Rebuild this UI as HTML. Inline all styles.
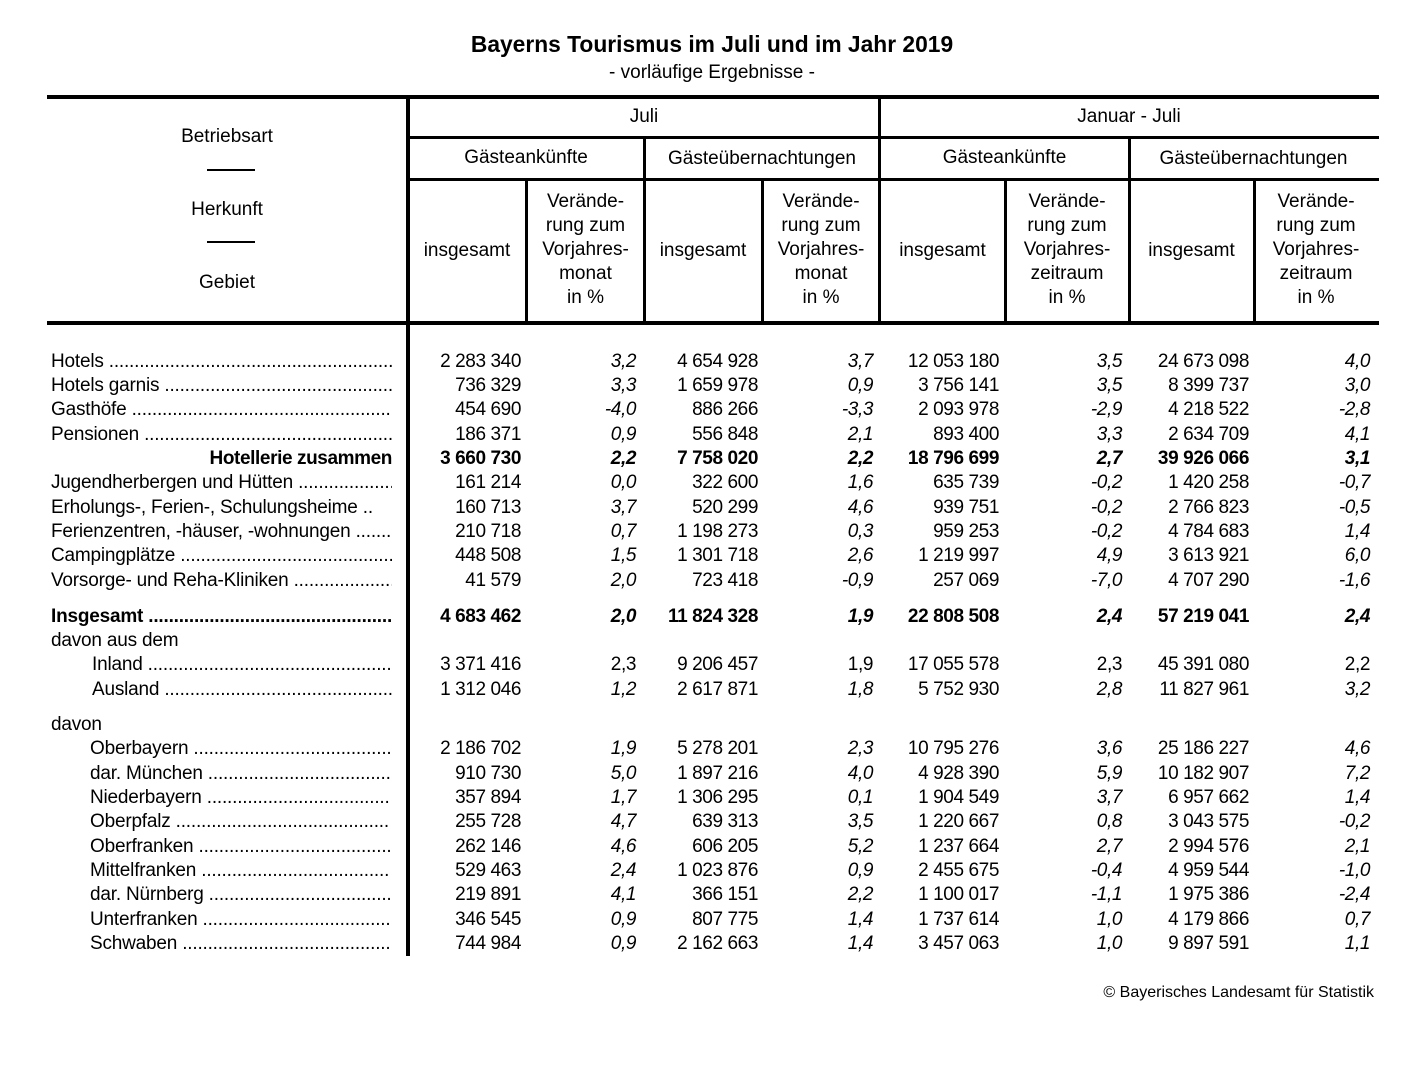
<!DOCTYPE html>
<html><head><meta charset="utf-8"><style>
body{margin:0;background:#fff;}
#p{position:relative;width:1424px;height:1072px;background:#fff;font-family:"Liberation Sans",Arial,sans-serif;font-size:19px;color:#000;overflow:hidden}
.l{position:absolute;background:#000}
.t{position:absolute;white-space:nowrap;text-align:center;line-height:24px}
.r{position:absolute;left:0;width:1424px;height:24px;line-height:24px;white-space:nowrap;margin-top:2px}
.r span{position:absolute;top:0;letter-spacing:-0.4px}
.r span.lab,.r span.ind{letter-spacing:-0.2px}
.lab{left:51px;width:341px;overflow:hidden}
.ind{left:92px;width:300px;overflow:hidden}
.c1{right:903px}.c2{right:788px;font-style:italic}.c3{right:666px}.c4{right:551px;font-style:italic}
.c5{right:425px}.c6{right:302px;font-style:italic}.c7{right:175px}.c8{right:54px;font-style:italic}
.b{font-weight:bold}
</style></head><body><div id="p">
<div class="t" style="left:0;width:1424px;top:32px;font-weight:bold;font-size:22.8px">Bayerns Tourismus im Juli und im Jahr 2019</div>
<div class="t" style="left:0;width:1424px;top:61px;font-size:19px">- vorläufige Ergebnisse -</div>

<div class="l" style="left:47px;top:95px;width:1332px;height:4px"></div>
<div class="l" style="left:406px;top:95px;width:4px;height:861px"></div>
<div class="l" style="left:408px;top:136px;width:971px;height:3px"></div>
<div class="l" style="left:878px;top:95px;width:3px;height:229px"></div>
<div class="l" style="left:408px;top:178px;width:971px;height:3px"></div>
<div class="l" style="left:643px;top:137px;width:3px;height:187px"></div>
<div class="l" style="left:1128px;top:137px;width:3px;height:187px"></div>
<div class="l" style="left:525px;top:180px;width:3px;height:144px"></div>
<div class="l" style="left:761px;top:180px;width:3px;height:144px"></div>
<div class="l" style="left:1004px;top:180px;width:3px;height:144px"></div>
<div class="l" style="left:1253px;top:180px;width:3px;height:144px"></div>
<div class="l" style="left:47px;top:321px;width:1332px;height:4px"></div>
<div class="l" style="left:207px;top:169px;width:48px;height:2px"></div>
<div class="l" style="left:207px;top:241px;width:48px;height:2px"></div>

<div class="t" style="left:47px;width:360px;top:125px">Betriebsart</div>
<div class="t" style="left:47px;width:360px;top:198px">Herkunft</div>
<div class="t" style="left:47px;width:360px;top:271px">Gebiet</div>
<div class="t" style="left:408px;width:472px;top:105px">Juli</div>
<div class="t" style="left:880px;width:498px;top:105px">Januar - Juli</div>
<div class="t" style="left:408px;width:236px;top:146px">Gästeankünfte</div>
<div class="t" style="left:644px;width:236px;top:147px">Gästeübernachtungen</div>
<div class="t" style="left:880px;width:249px;top:146px">Gästeankünfte</div>
<div class="t" style="left:1129px;width:249px;top:147px">Gästeübernachtungen</div>
<div class="t" style="left:408px;width:118px;top:239px">insgesamt</div>
<div class="t" style="left:644px;width:118px;top:239px">insgesamt</div>
<div class="t" style="left:880px;width:125px;top:239px">insgesamt</div>
<div class="t" style="left:1129px;width:125px;top:239px">insgesamt</div>
<div class="t" style="left:527px;width:117px;top:190px">Verände-<br>rung zum<br>Vorjahres-<br>monat<br>in %</div>
<div class="t" style="left:762px;width:118px;top:190px">Verände-<br>rung zum<br>Vorjahres-<br>monat<br>in %</div>
<div class="t" style="left:1005px;width:124px;top:190px">Verände-<br>rung zum<br>Vorjahres-<br>zeitraum<br>in %</div>
<div class="t" style="left:1254px;width:124px;top:190px">Verände-<br>rung zum<br>Vorjahres-<br>zeitraum<br>in %</div>

<div class="r" style="top:348px"><span class="lab">Hotels ..........................................................................................</span><span class="c1">2 283 340</span><span class="c2">3,2</span><span class="c3">4 654 928</span><span class="c4">3,7</span><span class="c5">12 053 180</span><span class="c6">3,5</span><span class="c7">24 673 098</span><span class="c8">4,0</span></div>
<div class="r" style="top:372px"><span class="lab">Hotels garnis ..........................................................................................</span><span class="c1">736 329</span><span class="c2">3,3</span><span class="c3">1 659 978</span><span class="c4">0,9</span><span class="c5">3 756 141</span><span class="c6">3,5</span><span class="c7">8 399 737</span><span class="c8">3,0</span></div>
<div class="r" style="top:396px"><span class="lab">Gasthöfe ..........................................................................................</span><span class="c1">454 690</span><span class="c2">-4,0</span><span class="c3">886 266</span><span class="c4">-3,3</span><span class="c5">2 093 978</span><span class="c6">-2,9</span><span class="c7">4 218 522</span><span class="c8">-2,8</span></div>
<div class="r" style="top:421px"><span class="lab">Pensionen ..........................................................................................</span><span class="c1">186 371</span><span class="c2">0,9</span><span class="c3">556 848</span><span class="c4">2,1</span><span class="c5">893 400</span><span class="c6">3,3</span><span class="c7">2 634 709</span><span class="c8">4,1</span></div>
<div class="r b" style="top:445px"><span style="right:1032px">Hotellerie zusammen</span><span class="c1">3 660 730</span><span class="c2">2,2</span><span class="c3">7 758 020</span><span class="c4">2,2</span><span class="c5">18 796 699</span><span class="c6">2,7</span><span class="c7">39 926 066</span><span class="c8">3,1</span></div>
<div class="r" style="top:469px"><span class="lab">Jugendherbergen und Hütten ..........................................................................................</span><span class="c1">161 214</span><span class="c2">0,0</span><span class="c3">322 600</span><span class="c4">1,6</span><span class="c5">635 739</span><span class="c6">-0,2</span><span class="c7">1 420 258</span><span class="c8">-0,7</span></div>
<div class="r" style="top:494px"><span class="lab">Erholungs-, Ferien-, Schulungsheime ..</span><span class="c1">160 713</span><span class="c2">3,7</span><span class="c3">520 299</span><span class="c4">4,6</span><span class="c5">939 751</span><span class="c6">-0,2</span><span class="c7">2 766 823</span><span class="c8">-0,5</span></div>
<div class="r" style="top:518px"><span class="lab">Ferienzentren, -häuser, -wohnungen ..........</span><span class="c1">210 718</span><span class="c2">0,7</span><span class="c3">1 198 273</span><span class="c4">0,3</span><span class="c5">959 253</span><span class="c6">-0,2</span><span class="c7">4 784 683</span><span class="c8">1,4</span></div>
<div class="r" style="top:542px"><span class="lab">Campingplätze ..........................................................................................</span><span class="c1">448 508</span><span class="c2">1,5</span><span class="c3">1 301 718</span><span class="c4">2,6</span><span class="c5">1 219 997</span><span class="c6">4,9</span><span class="c7">3 613 921</span><span class="c8">6,0</span></div>
<div class="r" style="top:567px"><span class="lab">Vorsorge- und Reha-Kliniken ..........................................................................................</span><span class="c1">41 579</span><span class="c2">2,0</span><span class="c3">723 418</span><span class="c4">-0,9</span><span class="c5">257 069</span><span class="c6">-7,0</span><span class="c7">4 707 290</span><span class="c8">-1,6</span></div>
<div class="r b" style="top:603px"><span class="lab">Insgesamt ..........................................................................................</span><span class="c1">4 683 462</span><span class="c2">2,0</span><span class="c3">11 824 328</span><span class="c4">1,9</span><span class="c5">22 808 508</span><span class="c6">2,4</span><span class="c7">57 219 041</span><span class="c8">2,4</span></div>
<div class="r" style="top:627px"><span class="lab">davon aus dem</span></div>
<div class="r" style="top:651px"><span class="ind">Inland ..........................................................................................</span><span class="c1">3 371 416</span><span class="c2" style="font-style:normal">2,3</span><span class="c3">9 206 457</span><span class="c4" style="font-style:normal">1,9</span><span class="c5">17 055 578</span><span class="c6" style="font-style:normal">2,3</span><span class="c7">45 391 080</span><span class="c8" style="font-style:normal">2,2</span></div>
<div class="r" style="top:676px"><span class="ind">Ausland ..........................................................................................</span><span class="c1">1 312 046</span><span class="c2">1,2</span><span class="c3">2 617 871</span><span class="c4">1,8</span><span class="c5">5 752 930</span><span class="c6">2,8</span><span class="c7">11 827 961</span><span class="c8">3,2</span></div>
<div class="r" style="top:711px"><span class="lab">davon</span></div>
<div class="r" style="top:735px"><span class="ind" style="left:90px">Oberbayern ..........................................................................................</span><span class="c1">2 186 702</span><span class="c2">1,9</span><span class="c3">5 278 201</span><span class="c4">2,3</span><span class="c5">10 795 276</span><span class="c6">3,6</span><span class="c7">25 186 227</span><span class="c8">4,6</span></div>
<div class="r" style="top:760px"><span class="ind" style="left:90px">dar. München ..........................................................................................</span><span class="c1">910 730</span><span class="c2">5,0</span><span class="c3">1 897 216</span><span class="c4">4,0</span><span class="c5">4 928 390</span><span class="c6">5,9</span><span class="c7">10 182 907</span><span class="c8">7,2</span></div>
<div class="r" style="top:784px"><span class="ind" style="left:90px">Niederbayern ..........................................................................................</span><span class="c1">357 894</span><span class="c2">1,7</span><span class="c3">1 306 295</span><span class="c4">0,1</span><span class="c5">1 904 549</span><span class="c6">3,7</span><span class="c7">6 957 662</span><span class="c8">1,4</span></div>
<div class="r" style="top:808px"><span class="ind" style="left:90px">Oberpfalz ..........................................................................................</span><span class="c1">255 728</span><span class="c2">4,7</span><span class="c3">639 313</span><span class="c4">3,5</span><span class="c5">1 220 667</span><span class="c6">0,8</span><span class="c7">3 043 575</span><span class="c8">-0,2</span></div>
<div class="r" style="top:833px"><span class="ind" style="left:90px">Oberfranken ..........................................................................................</span><span class="c1">262 146</span><span class="c2">4,6</span><span class="c3">606 205</span><span class="c4">5,2</span><span class="c5">1 237 664</span><span class="c6">2,7</span><span class="c7">2 994 576</span><span class="c8">2,1</span></div>
<div class="r" style="top:857px"><span class="ind" style="left:90px">Mittelfranken ..........................................................................................</span><span class="c1">529 463</span><span class="c2">2,4</span><span class="c3">1 023 876</span><span class="c4">0,9</span><span class="c5">2 455 675</span><span class="c6">-0,4</span><span class="c7">4 959 544</span><span class="c8">-1,0</span></div>
<div class="r" style="top:881px"><span class="ind" style="left:90px">dar. Nürnberg ..........................................................................................</span><span class="c1">219 891</span><span class="c2">4,1</span><span class="c3">366 151</span><span class="c4">2,2</span><span class="c5">1 100 017</span><span class="c6">-1,1</span><span class="c7">1 975 386</span><span class="c8">-2,4</span></div>
<div class="r" style="top:906px"><span class="ind" style="left:90px">Unterfranken ..........................................................................................</span><span class="c1">346 545</span><span class="c2">0,9</span><span class="c3">807 775</span><span class="c4">1,4</span><span class="c5">1 737 614</span><span class="c6">1,0</span><span class="c7">4 179 866</span><span class="c8">0,7</span></div>
<div class="r" style="top:930px"><span class="ind" style="left:90px">Schwaben ..........................................................................................</span><span class="c1">744 984</span><span class="c2">0,9</span><span class="c3">2 162 663</span><span class="c4">1,4</span><span class="c5">3 457 063</span><span class="c6">1,0</span><span class="c7">9 897 591</span><span class="c8">1,1</span></div>

<div class="t" style="right:50px;top:981px;font-size:16px">© Bayerisches Landesamt für Statistik</div>
</div></body></html>
